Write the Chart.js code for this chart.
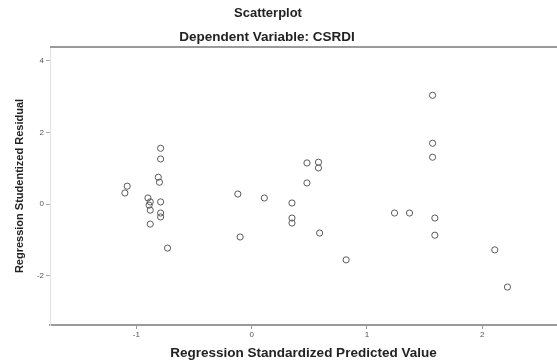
<!DOCTYPE html>
<html>
<head>
<meta charset="utf-8">
<script src="https://cdn.jsdelivr.net/npm/chart.js@4"></script>
<style>
    html, body { margin: 0; padding: 0; background: #fff; }
    #wrap { width: 557px; height: 364px; }
</style>
</head>
<body>
<div id="wrap"><canvas id="scatter"></canvas></div>
<script>
// Regression standardized predicted value (x) and studentized residual (y)
const predicted = [
    -1.08, -1.10, -0.79, -0.79, -0.81, -0.80, -0.90, -0.88, -0.89, -0.88,
    -0.79, -0.79, -0.79, -0.88, -0.73, -0.12, 0.11, 0.35, 0.35, 0.35,
    0.48, 0.58, 0.58, 0.48, -0.10, 0.59, 0.82, 1.57, 1.57, 1.57,
    1.24, 1.37, 1.59, 1.59, 2.11, 2.22,
];
const residual = [
    0.50, 0.31, 1.56, 1.26, 0.75, 0.61, 0.17, 0.06, -0.03, -0.17,
    0.06, -0.25, -0.36, -0.56, -1.23, 0.28, 0.17, 0.03, -0.39, -0.53,
    1.15, 1.17, 1.01, 0.59, -0.92, -0.81, -1.56, 3.04, 1.70, 1.31,
    -0.25, -0.25, -0.39, -0.87, -1.28, -2.32,
];
const xTicks = [-1, 0, 1, 2];
const yTicks = [4, 2, 0, -2];

const chartTitle = 'Scatterplot';
const chartSubtitle = 'Dependent Variable: CSRDI';

const points = predicted.map((x, i) => ({ x, y: residual[i] }));

// titles sit a bit left of the canvas middle, and a rule runs above the plot
const frame = {
    id: 'frame',
    afterDraw(chart) {
        const { ctx, chartArea } = chart;
        ctx.save();
        ctx.fillStyle = '#222';
        ctx.textAlign = 'center';
        ctx.textBaseline = 'middle';
        ctx.font = 'bold 13px "Liberation Sans", Arial, sans-serif';
        ctx.fillText(chartTitle, 268, 13);
        ctx.font = 'bold 13.5px "Liberation Sans", Arial, sans-serif';
        ctx.fillText(chartSubtitle, 267, 37);
        ctx.strokeStyle = '#9a9a9a';
        ctx.lineWidth = 2;
        ctx.beginPath();
        ctx.moveTo(chartArea.left, chartArea.top);
        ctx.lineTo(chartArea.right, chartArea.top);
        ctx.stroke();
        ctx.restore();
    },
};

new Chart(document.getElementById('scatter'), {
    type: 'scatter',
    data: {
        datasets: [{
            data: points,
            pointStyle: 'circle',
            pointRadius: 3.1,
            pointBorderWidth: 1,
            pointBorderColor: '#5a5a5a',
            pointBackgroundColor: 'rgba(0,0,0,0)',
        }],
    },
    options: {
        responsive: true,
        maintainAspectRatio: false,
        animation: false,
        layout: { autoPadding: false, padding: { top: 47, left: 0, right: 0, bottom: 0 } },
        plugins: {
            legend: { display: false },
            tooltip: { enabled: false },
        },
        scales: {
            x: {
                type: 'linear',
                min: -1.75,
                max: 2.65,
                afterFit: (scale) => { scale.height = 39; scale.paddingLeft = 0; scale.paddingRight = 0; },
                afterBuildTicks: (scale) => { scale.ticks = xTicks.map((v) => ({ value: v })); },
                border: { display: true, color: '#9a9a9a', width: 2 },
                grid: { drawOnChartArea: false, drawTicks: true, tickLength: 4, color: '#999' },
                ticks: {
                    color: '#555',
                    padding: 1,
                    maxRotation: 0,
                    font: { size: 8, family: '"Liberation Sans", Arial, sans-serif' },
                },
                title: {
                    display: true,
                    text: 'Regression Standardized Predicted Value',
                    color: '#222',
                    font: { size: 13.5, weight: 'bold', family: '"Liberation Sans", Arial, sans-serif' },
                    padding: { top: 0, bottom: 3 },
                },
            },
            y: {
                type: 'linear',
                min: -3.38,
                max: 4.39,
                afterFit: (scale) => { scale.width = 50; },
                afterBuildTicks: (scale) => { scale.ticks = yTicks.map((v) => ({ value: v })); },
                border: { display: true, color: '#e2e2e2', width: 1 },
                grid: { drawOnChartArea: false, drawTicks: true, tickLength: 4, color: '#aaa' },
                ticks: {
                    color: '#555',
                    padding: 2,
                    font: { size: 8, family: '"Liberation Sans", Arial, sans-serif' },
                },
                title: {
                    display: true,
                    text: 'Regression Studentized Residual',
                    color: '#222',
                    font: { size: 11, weight: 'bold', family: '"Liberation Sans", Arial, sans-serif' },
                    padding: { top: 13, bottom: 0 },
                },
            },
        },
    },
    plugins: [frame],
});
</script>
</body>
</html>
